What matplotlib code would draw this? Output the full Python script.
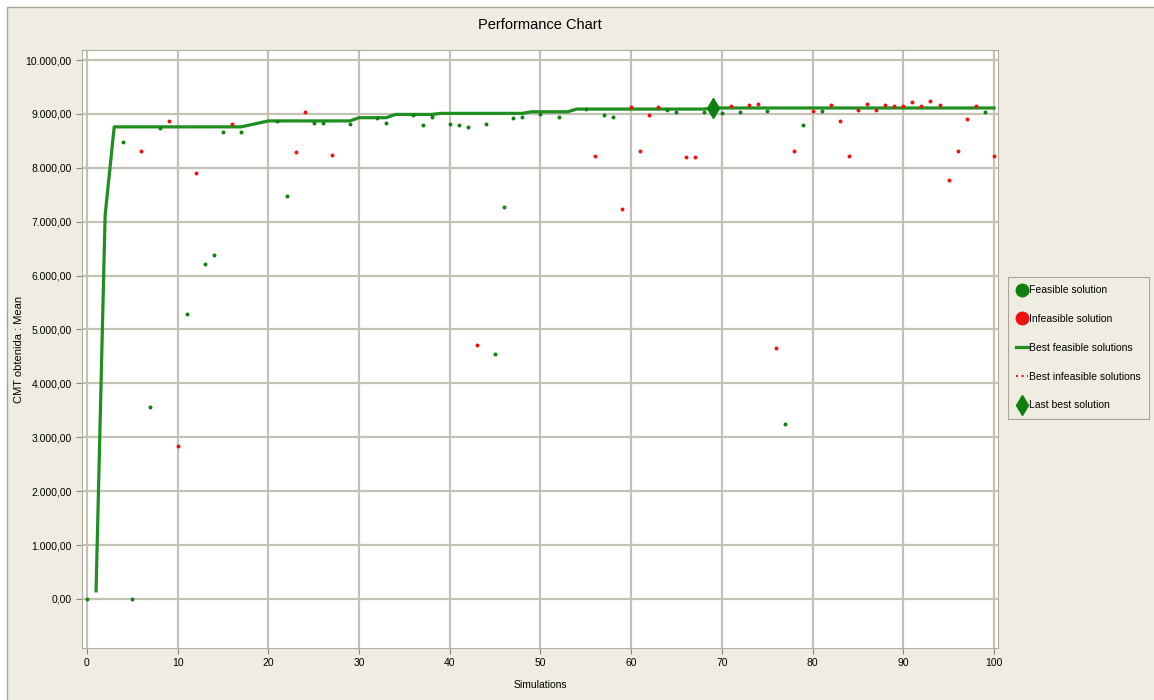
import matplotlib
matplotlib.use("Agg")
import matplotlib.pyplot as plt
from matplotlib.lines import Line2D
from matplotlib.patches import Rectangle
from matplotlib.ticker import FuncFormatter, MultipleLocator


# simulations with a feasible result
FEASIBLE_X = [0, 4, 5, 7, 8, 11, 13, 14, 15, 17, 21, 22, 25, 26, 29, 32, 33, 36, 37,
              38, 40, 41, 42, 44, 45, 46, 47, 48, 50, 52, 55, 57, 58, 64, 65, 68, 70,
              72, 75, 77, 79, 81, 99]
FEASIBLE_Y = [0, 8480, 0, 3560, 8735, 5290, 6210, 6390, 8660, 8660, 8870, 7480, 8840,
              8840, 8815, 8920, 8840, 8980, 8790, 8945, 8820, 8790, 8765, 8820, 4540,
              7270, 8920, 8948, 9000, 8950, 9085, 8975, 8950, 9075, 9040, 9040, 9025,
              9030, 9055, 3240, 8795, 9055, 9030]

# simulations with an infeasible result
INFEASIBLE_X = [6, 9, 10, 12, 16, 23, 24, 27, 43, 56, 59, 60, 61, 62, 63, 66, 67, 71,
                73, 74, 76, 78, 80, 82, 83, 84, 85, 86, 87, 88, 89, 90, 91, 92, 93, 94,
                95, 96, 97, 98, 100]
INFEASIBLE_Y = [8320, 8870, 2830, 7900, 8815, 8300, 9030, 8240, 4710, 8210, 7240, 9120,
                8320, 8975, 9120, 8195, 8195, 9150, 9165, 9190, 4650, 8320, 9055, 9165,
                8875, 8215, 9070, 9190, 9070, 9165, 9145, 9145, 9215, 9145, 9240, 9165,
                7770, 8320, 8900, 9145, 8215]

# vertices of the best feasible solutions line
BEST_X = [1, 2, 3, 17, 20, 29, 30, 33, 34, 38, 39, 48, 49, 53, 54, 68, 69, 100]
BEST_Y = [150, 7120, 8760, 8760, 8870, 8870, 8930, 8930, 8990, 8990, 9010, 9010,
          9040, 9040, 9090, 9090, 9110, 9110]

LAST_BEST = (69, 9110)

TITLE = "Performance Chart"
X_LABEL = "Simulations"
Y_LABEL = "CMT obtenida : Mean"
LEGEND_LABELS = ["Feasible solution", "Infeasible solution", "Best feasible solutions",
                 "Best infeasible solutions", "Last best solution"]

BG = "#efece1"
GRID = "#c4c1b5"
GREEN = "#0f7f0f"
LINE_GREEN = "#1f8f1f"
RED = "#ee1111"
FONT = "Liberation Sans"


def y_format(value, pos):
    text = f"{value:,.2f}"
    return text.replace(",", "#").replace(".", ",").replace("#", ".")


def main():
    fig = plt.figure(figsize=(11.54, 7.0), dpi=100, facecolor="white")
    fig.add_artist(Rectangle((7 / 1154, -0.01), 1.0, 1.01 - 7 / 700,
                             transform=fig.transFigure, facecolor=BG,
                             edgecolor="#a8a598", linewidth=1.0, zorder=-10))

    ax = fig.add_axes([82 / 1154, 1 - 648 / 700, 916 / 1154, 598 / 700])
    ax.set_facecolor("white")

    ax.scatter(FEASIBLE_X, FEASIBLE_Y, s=8, color=GREEN, linewidths=0, zorder=3)
    ax.scatter(INFEASIBLE_X, INFEASIBLE_Y, s=8, color=RED, linewidths=0, zorder=3)
    ax.plot(BEST_X, BEST_Y, color=LINE_GREEN, linewidth=2.3, zorder=2)
    ax.plot([LAST_BEST[0]], [LAST_BEST[1]], marker="d", markersize=10, color=GREEN,
            linestyle="none", zorder=4)

    ax.set_xlim(-0.55, 100.45)
    ax.set_ylim(-910, 10186)
    ax.xaxis.set_major_locator(MultipleLocator(10))
    ax.yaxis.set_major_locator(MultipleLocator(1000))
    ax.yaxis.set_major_formatter(FuncFormatter(y_format))
    ax.grid(True, color=GRID, linewidth=1.6)
    ax.set_axisbelow(True)

    for spine in ax.spines.values():
        spine.set_color("#b0ada2")
        spine.set_linewidth(0.8)

    ax.tick_params(axis="both", colors="#8a877c", length=4, width=0.8,
                   labelcolor="black", labelsize=7.5)
    for label in ax.get_xticklabels() + ax.get_yticklabels():
        label.set_family(FONT)

    ax.set_title(TITLE, fontsize=10.5, family=FONT, pad=15)
    ax.set_xlabel(X_LABEL, fontsize=7.5, family=FONT, labelpad=8)
    ax.set_ylabel(Y_LABEL, fontsize=8, family=FONT)
    ax.yaxis.set_label_coords((24 - 82) / 916, 0.5)

    handles = [
        Line2D([], [], marker="o", markersize=9, color=GREEN, linestyle="none"),
        Line2D([], [], marker="o", markersize=9, color=RED, linestyle="none"),
        Line2D([], [], color=LINE_GREEN, linewidth=2.3),
        Line2D([], [], color=RED, linewidth=1.5, linestyle=":"),
        Line2D([], [], marker="d", markersize=10, color=GREEN, linestyle="none"),
    ]
    legend = fig.legend(handles, LEGEND_LABELS, loc="upper left",
                        bbox_to_anchor=(1008 / 1154, 1 - 277 / 700),
                        prop={"family": FONT, "size": 7.5}, frameon=True,
                        fancybox=False, edgecolor="#a8a598", facecolor=BG,
                        framealpha=1, handlelength=1.1, handletextpad=0.15,
                        labelspacing=1.8, borderpad=0.8, borderaxespad=0)
    legend.get_frame().set_linewidth(0.8)

    fig.savefig("out.png", dpi=100, facecolor=fig.get_facecolor())


if __name__ == "__main__":
    main()
